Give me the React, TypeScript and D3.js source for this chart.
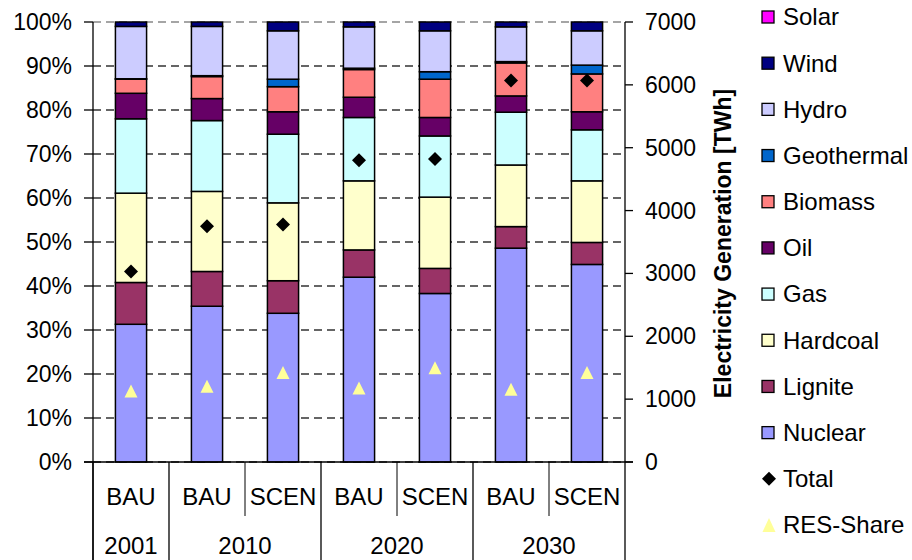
import React from "react";
import * as d3 from "d3";

const scenarios = ["BAU", "BAU", "SCEN", "BAU", "SCEN", "BAU", "SCEN"];
const years = ["2001", "2010", "2010", "2020", "2020", "2030", "2030"];

const nuclear = [31.3, 35.4, 33.8, 42.0, 38.3, 48.6, 44.9];
const lignite = [9.5, 7.9, 7.4, 6.2, 5.7, 4.9, 5.0];
const hardcoal = [20.3, 18.2, 17.7, 15.7, 16.2, 14.0, 14.0];
const gas = [16.9, 16.1, 15.6, 14.4, 13.9, 12.0, 11.6];
const oil = [5.8, 5.0, 5.1, 4.6, 4.2, 3.7, 4.1];
const biomass = [3.2, 5.0, 5.7, 6.3, 8.7, 7.5, 8.6];
const geothermal = [0.1, 0.2, 1.7, 0.3, 1.7, 0.3, 2.0];
const hydro = [11.9, 11.2, 11.0, 9.4, 9.3, 7.9, 7.8];
const wind = [1.0, 1.0, 2.0, 1.1, 2.0, 1.1, 2.0];
const solar = [0, 0, 0, 0, 0, 0, 0];

const totalTWh = [3030, 3750, 3780, 4800, 4820, 6070, 6070];
const resShare = [16.0, 17.1, 20.2, 16.7, 21.3, 16.4, 20.2];

const pctTicks = [0, 10, 20, 30, 40, 50, 60, 70, 80, 90, 100];
const twhTicks = [0, 1000, 2000, 3000, 4000, 5000, 6000, 7000];

const seriesNames = ["Nuclear", "Lignite", "Hardcoal", "Gas", "Oil", "Biomass", "Geothermal", "Hydro", "Wind", "Solar"];
const seriesValues = [nuclear, lignite, hardcoal, gas, oil, biomass, geothermal, hydro, wind, solar];
const seriesColors = ["#9999FF", "#993366", "#FFFFCC", "#CCFFFF", "#660066", "#FF8080", "#0066CC", "#CCCCFF", "#000080", "#FF00FF"];

const legendOrder = ["Solar", "Wind", "Hydro", "Geothermal", "Biomass", "Oil", "Gas", "Hardcoal", "Lignite", "Nuclear"];

export default function App() {
  const W = 912, H = 560;
  const left = 93, right = 625, top = 22, bottom = 462;
  const font = "'Liberation Sans', Arial, sans-serif";

  const idx = scenarios.map((_, i) => i);
  const x = d3.scaleBand<number>().domain(idx).range([left, right]).padding(0);
  const barW = x.bandwidth() * 0.41;
  const y = d3.scaleLinear().domain([0, 100]).range([bottom, top]);
  const y2 = d3.scaleLinear().domain([0, 7000]).range([bottom, top]);

  const rows = idx.map((i) => {
    const o: Record<string, number> = {};
    seriesNames.forEach((n, k) => (o[n] = seriesValues[k][i]));
    return o;
  });
  const stacked = d3.stack<Record<string, number>>().keys(seriesNames)(rows);

  // year groups
  const groups: { year: string; start: number; end: number }[] = [];
  years.forEach((yr, i) => {
    const g = groups[groups.length - 1];
    if (g && g.year === yr) g.end = i;
    else groups.push({ year: yr, start: i, end: i });
  });

  const legendY = d3.scaleLinear().domain([0, 11]).range([17, 525]);

  return (
    <svg width={W} height={H} style={{ position: "absolute", left: 0, top: 0, background: "#fff" }} fontFamily={font}>
      {/* gridlines */}
      {pctTicks.map((t) => (
        <line key={"g" + t} x1={left} x2={right} y1={y(t)} y2={y(t)} stroke={t === 100 ? "#888" : "#333"} strokeWidth={1.3} strokeDasharray="8,5" />
      ))}
      {/* bars */}
      {stacked.map((s, k) => (
        <g key={s.key}>
          {s.map((d, i) =>
            d[1] - d[0] > 0 ? (
              <rect
                key={i}
                x={(x(i) as number) + (x.bandwidth() - barW) / 2}
                y={y(d[1])}
                width={barW}
                height={y(d[0]) - y(d[1])}
                fill={seriesColors[k]}
                stroke="#000"
                strokeWidth={1.5}
              />
            ) : null
          )}
        </g>
      ))}
      {/* left axis */}
      <line x1={left} x2={left} y1={top} y2={H} stroke="#000" strokeWidth={1.3} />
      {pctTicks.map((t) => (
        <g key={"l" + t}>
          <line x1={left - 9} x2={left} y1={y(t)} y2={y(t)} stroke="#000" strokeWidth={1.3} />
          <text x={72} y={y(t)} dy="0.35em" textAnchor="end" fontSize={23}>{t + "%"}</text>
        </g>
      ))}
      {/* right axis */}
      <line x1={right} x2={right} y1={top} y2={H} stroke="#000" strokeWidth={1.3} />
      {twhTicks.map((t) => (
        <g key={"r" + t}>
          <line x1={right} x2={right + 8} y1={y2(t)} y2={y2(t)} stroke="#000" strokeWidth={1.3} />
          <text x={645} y={y2(t)} dy="0.35em" textAnchor="start" fontSize={23}>{t}</text>
        </g>
      ))}
      <text
        transform={`translate(731,${(85 + 402) / 2}) rotate(-90)`}
        textAnchor="middle"
        fontWeight="bold"
        fontSize={23}
      >
        Electricity Generation [TWh]
      </text>
      {/* category axis */}
      <line x1={left - 9} x2={right + 8} y1={bottom} y2={bottom} stroke="#000" strokeWidth={1.3} />
      {idx.map((i) => {
        const isGroupStart = i === 0 || years[i] !== years[i - 1];
        return !isGroupStart ? (
          <line key={"sd" + i} x1={x(i) as number} x2={x(i) as number} y1={bottom} y2={516} stroke="#000" strokeWidth={1} />
        ) : (
          <line key={"gd" + i} x1={x(i) as number} x2={x(i) as number} y1={bottom} y2={H} stroke="#000" strokeWidth={1.3} />
        );
      })}
      {idx.map((i) => (
        <text key={"sc" + i} x={(x(i) as number) + x.bandwidth() / 2} y={497} dy="0.35em" textAnchor="middle" fontSize={24}>
          {scenarios[i]}
        </text>
      ))}
      {groups.map((g) => (
        <text
          key={g.year}
          x={((x(g.start) as number) + (x(g.end) as number) + x.bandwidth()) / 2}
          y={546}
          dy="0.35em"
          textAnchor="middle"
          fontSize={24}
        >
          {g.year}
        </text>
      ))}
      {/* totals */}
      {totalTWh.map((v, i) => {
        const cx = (x(i) as number) + x.bandwidth() / 2;
        const cy = y2(v);
        return <path key={"t" + i} d={`M${cx},${cy - 7}L${cx + 7},${cy}L${cx},${cy + 7}L${cx - 7},${cy}Z`} fill="#000" />;
      })}
      {/* RES share */}
      {resShare.map((v, i) => {
        const cx = (x(i) as number) + x.bandwidth() / 2;
        const cy = y(v);
        return <path key={"r" + i} d={`M${cx},${cy - 7}L${cx + 6.5},${cy + 6}L${cx - 6.5},${cy + 6}Z`} fill="#FFFF99" />;
      })}
      {/* legend */}
      {legendOrder.map((n, j) => {
        const k = seriesNames.indexOf(n);
        const cy = legendY(j);
        return (
          <g key={"lg" + n}>
            <rect x={762} y={cy - 6} width={12} height={12} fill={seriesColors[k]} stroke="#000" strokeWidth={1.3} />
            <text x={783} y={cy} dy="0.35em" fontSize={24}>{n}</text>
          </g>
        );
      })}
      <path d={`M${769},${legendY(10) - 7}L${776},${legendY(10)}L${769},${legendY(10) + 7}L${762},${legendY(10)}Z`} fill="#000" />
      <text x={783} y={legendY(10)} dy="0.35em" fontSize={24}>Total</text>
      <path d={`M${769},${legendY(11) - 7}L${775.5},${legendY(11) + 7}L${762.5},${legendY(11) + 7}Z`} fill="#FFFF99" />
      <text x={783} y={legendY(11)} dy="0.35em" fontSize={24}>RES-Share</text>
    </svg>
  );
}
